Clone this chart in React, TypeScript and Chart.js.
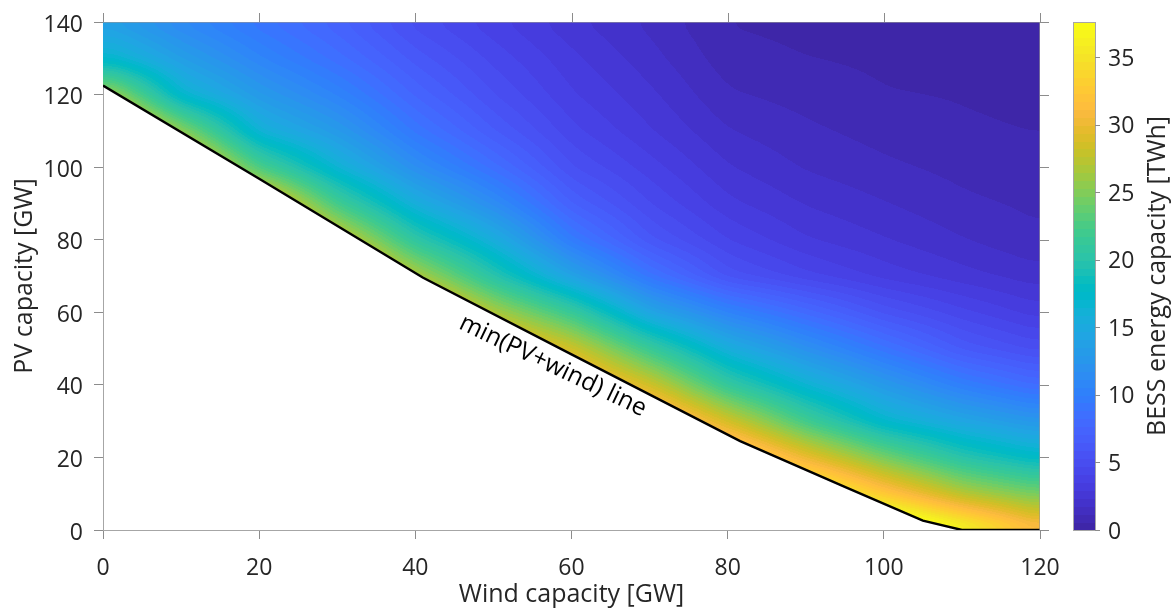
import React, { useEffect, useRef } from "react";
import { Chart, registerables } from "chart.js";

Chart.register(...registerables);

// ---------------- data ----------------
const windGrid = [0, 10, 20, 30, 40, 50, 60, 70, 80, 90, 100, 110, 120];
const pvGrid = [0, 10, 20, 30, 40, 50, 60, 70, 80, 90, 100, 110, 120, 130, 140];

// BESS energy capacity [TWh] at each wind grid node, one array per PV row (null = infeasible)
const n = null;
const bessPV0 = [n, n, n, n, n, n, n, n, n, n, 43, 37.5, 31.5];
const bessPV10 = [n, n, n, n, n, n, n, n, n, 38.8, 32.5, 27.2, 24.3];
const bessPV20 = [n, n, n, n, n, n, n, n, 36.4, 30, 24.5, 20, 17.5];
const bessPV30 = [n, n, n, n, n, n, n, 35.5, 28.6, 22, 17, 14.5, 12.5];
const bessPV40 = [n, n, n, n, n, n, 34, 28.5, 21, 16.5, 13, 10, 8.0];
const bessPV50 = [n, n, n, n, n, 33, 28.5, 21.5, 15.5, 12, 9, 6.3, 5.0];
const bessPV60 = [n, n, n, n, 34, 26.8, 21.5, 14.3, 10.5, 8.0, 5.7, 4.3, 3.2];
const bessPV70 = [n, n, n, 35, 27, 20, 14, 9.0, 5.6, 4.3, 3.3, 2.6, 2.0];
const bessPV80 = [n, n, 36, 29, 20.5, 15.5, 9.6, 6.0, 4.1, 3.0, 2.4, 1.8, 1.25];
const bessPV90 = [n, n, 32, 22, 15.5, 11.5, 7.0, 4.7, 3.1, 2.3, 1.8, 1.3, 1.05];
const bessPV100 = [n, 33, 22.5, 16.3, 11.7, 8.5, 5.3, 3.8, 2.4, 1.7, 1.3, 1.0, 0.8];
const bessPV110 = [35, 25.5, 16, 13, 9.2, 6.5, 4.3, 3.0, 1.8, 1.3, 0.95, 0.67, 0.57];
const bessPV120 = [27.5, 16.8, 13, 10.5, 7.5, 5.3, 3.6, 2.5, 1.25, 0.95, 0.62, 0.55, 0.45];
const bessPV130 = [17.3, 13.5, 10.7, 8.5, 6.2, 4.5, 3.1, 2.0, 0.85, 0.6, 0.48, 0.4, 0.35];
const bessPV140 = [13.7, 11, 9, 7.2, 5.0, 3.7, 2.5, 1.6, 0.55, 0.4, 0.3, 0.3, 0.25];
const bessRows: (number | null)[][] = [
  bessPV0, bessPV10, bessPV20, bessPV30, bessPV40, bessPV50, bessPV60, bessPV70,
  bessPV80, bessPV90, bessPV100, bessPV110, bessPV120, bessPV130, bessPV140,
];

// min(PV+wind) boundary line
const minLineWind = [0, 20, 41, 60, 81.6, 95, 105, 110, 120];
const minLinePV = [122.5, 96.8, 69.5, 48.4, 24.5, 11.9, 2.6, 0, 0];

const xTicks = [0, 20, 40, 60, 80, 100, 120];
const yTicks = [0, 20, 40, 60, 80, 100, 120, 140];
const colorbarTicks = [0, 5, 10, 15, 20, 25, 30, 35];
const colorMin = 0;
const colorMax = 37.6;

// parula colormap, 64 entries
const parula: number[][] = [
  [0.2422, 0.1504, 0.6603], [0.2504, 0.165, 0.7076], [0.2578, 0.1818, 0.7511], [0.2647, 0.1978, 0.7952],
  [0.2706, 0.2147, 0.8364], [0.2751, 0.2342, 0.871], [0.2783, 0.2559, 0.8991], [0.2803, 0.2782, 0.9221],
  [0.2813, 0.3006, 0.9414], [0.281, 0.3228, 0.9579], [0.2795, 0.3447, 0.9717], [0.276, 0.3667, 0.9829],
  [0.2699, 0.3892, 0.9906], [0.2602, 0.4123, 0.9952], [0.244, 0.4358, 0.9988], [0.2206, 0.4603, 0.9973],
  [0.1963, 0.4847, 0.9892], [0.1834, 0.5074, 0.9798], [0.1786, 0.5289, 0.9682], [0.1764, 0.5499, 0.952],
  [0.1687, 0.5703, 0.9359], [0.154, 0.5902, 0.9218], [0.146, 0.6091, 0.9079], [0.138, 0.6276, 0.8973],
  [0.1248, 0.6459, 0.8883], [0.1113, 0.6635, 0.8763], [0.0952, 0.6798, 0.8598], [0.0689, 0.6948, 0.8394],
  [0.0297, 0.7082, 0.8163], [0.0036, 0.7199, 0.7917], [0.0067, 0.7296, 0.7667], [0.0433, 0.7411, 0.7394],
  [0.0964, 0.75, 0.712], [0.1408, 0.7584, 0.6842], [0.1717, 0.767, 0.6554], [0.1938, 0.7758, 0.6251],
  [0.2161, 0.7843, 0.5923], [0.247, 0.7918, 0.5567], [0.2906, 0.7973, 0.5188], [0.3406, 0.8008, 0.4789],
  [0.3909, 0.8029, 0.4354], [0.4456, 0.8024, 0.3909], [0.5044, 0.7993, 0.348], [0.5616, 0.7942, 0.3045],
  [0.6174, 0.7876, 0.2612], [0.672, 0.7793, 0.2227], [0.7242, 0.7698, 0.191], [0.7738, 0.7598, 0.1646],
  [0.8203, 0.7498, 0.1535], [0.8634, 0.7406, 0.1596], [0.9035, 0.733, 0.1774], [0.9393, 0.7288, 0.21],
  [0.9728, 0.7298, 0.2394], [0.9956, 0.7434, 0.2371], [0.997, 0.7659, 0.2199], [0.9952, 0.7893, 0.2028],
  [0.9892, 0.8136, 0.1885], [0.9786, 0.8386, 0.1766], [0.9676, 0.8639, 0.1643], [0.961, 0.889, 0.1537],
  [0.9597, 0.9135, 0.1423], [0.9628, 0.9373, 0.1265], [0.9691, 0.9606, 0.1064], [0.9769, 0.9839, 0.0805],
];

const TEXT = "#262626";
const AXIS = "#a6a6a6";
const TICK = "#8c8c8c";
const FONT = "'Open Sans'";
const FS = 23;
const TFS = 25;

function findCell(grid: number[], v: number) {
  let i = 0;
  while (i < grid.length - 2 && v > grid[i + 1]) i++;
  const t = (v - grid[i]) / (grid[i + 1] - grid[i]);
  return { i, t: Math.max(0, Math.min(1, t)) };
}

function sample(wind: number, pv: number): number | null {
  const cx = findCell(windGrid, wind);
  const cy = findCell(pvGrid, pv);
  const corners: [number, number, number][] = [
    [cy.i, cx.i, (1 - cx.t) * (1 - cy.t)],
    [cy.i, cx.i + 1, cx.t * (1 - cy.t)],
    [cy.i + 1, cx.i, (1 - cx.t) * cy.t],
    [cy.i + 1, cx.i + 1, cx.t * cy.t],
  ];
  let s = 0, wsum = 0;
  for (const [r, c, w] of corners) {
    const v = bessRows[r][c];
    if (v === null || v === undefined) continue;
    s += v * w;
    wsum += w;
  }
  if (wsum < 1e-9) return null;
  return s / wsum;
}

// normalized box blur (ignores invalid pixels), used only to smooth shading
function boxBlur(F: Float32Array, valid: Uint8Array, w: number, h: number, r: number, horizontal: boolean) {
  const out = new Float32Array(F.length);
  const len = horizontal ? w : h, lines = horizontal ? h : w;
  for (let l = 0; l < lines; l++) {
    const idx = (k: number) => (horizontal ? l * w + k : k * w + l);
    let s = 0, c = 0;
    for (let k = 0; k < Math.min(r, len); k++) { const p = idx(k); if (valid[p]) { s += F[p]; c++; } }
    for (let k = 0; k < len; k++) {
      const add = k + r;
      if (add < len) { const p = idx(add); if (valid[p]) { s += F[p]; c++; } }
      const rem = k - r - 1;
      if (rem >= 0) { const p = idx(rem); if (valid[p]) { s -= F[p]; c--; } }
      const p = idx(k);
      out[p] = c > 0 ? s / c : F[p];
    }
  }
  for (let i = 0; i < F.length; i++) if (valid[i]) F[i] = out[i];
}

function colorIndex(v: number) {
  let k = Math.floor(((v - colorMin) / (colorMax - colorMin)) * parula.length);
  if (k < 0) k = 0;
  if (k > parula.length - 1) k = parula.length - 1;
  return k;
}

const heatmapPlugin = {
  id: "heatmap",
  beforeDatasetsDraw(chart: any) {
    const { ctx, chartArea: a, scales } = chart;
    const xs = scales.x, ys = scales.y;
    const x0 = Math.round(a.left), y0 = Math.round(a.top);
    const w = Math.round(a.right) - x0, h = Math.round(a.bottom) - y0;
    const F = new Float32Array(w * h);
    const valid = new Uint8Array(w * h);
    for (let j = 0; j < h; j++) {
      const pv = ys.getValueForPixel(y0 + j + 0.5);
      for (let i = 0; i < w; i++) {
        const wind = xs.getValueForPixel(x0 + i + 0.5);
        const v = sample(wind, pv);
        if (v === null) continue;
        F[j * w + i] = v;
        valid[j * w + i] = 1;
      }
    }
    for (let pass = 0; pass < 2; pass++) {
      boxBlur(F, valid, w, h, 11, true);
      boxBlur(F, valid, w, h, 6, false);
    }
    const off = document.createElement("canvas");
    off.width = w;
    off.height = h;
    const octx = off.getContext("2d")!;
    const img = octx.createImageData(w, h);
    for (let p = 0; p < w * h; p++) {
      if (!valid[p]) continue;
      const c = parula[colorIndex(F[p])];
      img.data[p * 4] = Math.round(c[0] * 255);
      img.data[p * 4 + 1] = Math.round(c[1] * 255);
      img.data[p * 4 + 2] = Math.round(c[2] * 255);
      img.data[p * 4 + 3] = 255;
    }
    octx.putImageData(img, 0, 0);
    ctx.save();
    ctx.beginPath();
    minLineWind.forEach((wv, k) => {
      const px = xs.getPixelForValue(wv), py = ys.getPixelForValue(minLinePV[k]);
      if (k === 0) ctx.moveTo(px, py); else ctx.lineTo(px, py);
    });
    ctx.lineTo(xs.getPixelForValue(xs.max), ys.getPixelForValue(ys.max));
    ctx.lineTo(xs.getPixelForValue(xs.min), ys.getPixelForValue(ys.max));
    ctx.closePath();
    ctx.clip();
    ctx.drawImage(off, x0, y0);
    ctx.restore();
  },
};

const decorPlugin = {
  id: "decor",
  afterDraw(chart: any) {
    const { ctx, chartArea: a, scales } = chart;
    const xs = scales.x, ys = scales.y, cb = scales.cb;
    ctx.save();
    // box lines top/right
    ctx.strokeStyle = "rgba(150,150,150,0.6)";
    ctx.lineWidth = 1;
    ctx.beginPath();
    ctx.moveTo(a.left, a.top + 0.5);
    ctx.lineTo(a.right, a.top + 0.5);
    ctx.moveTo(a.right - 0.5, a.top);
    ctx.lineTo(a.right - 0.5, a.bottom);
    ctx.stroke();
    // top/right ticks
    ctx.strokeStyle = TICK;
    ctx.beginPath();
    xTicks.forEach((t) => {
      const px = Math.round(xs.getPixelForValue(t)) + 0.5;
      ctx.moveTo(px, a.top);
      ctx.lineTo(px, a.top - 9);
    });
    yTicks.forEach((t) => {
      const py = Math.round(ys.getPixelForValue(t)) + 0.5;
      ctx.moveTo(a.right, py);
      ctx.lineTo(a.right + 9, py);
    });
    ctx.stroke();

    // colorbar
    const cbL = 1073, cbW = 22;
    for (let k = 0; k < parula.length; k++) {
      const v0 = colorMin + (k * (colorMax - colorMin)) / parula.length;
      const v1 = colorMin + ((k + 1) * (colorMax - colorMin)) / parula.length;
      const yy0 = cb.getPixelForValue(v0), yy1 = cb.getPixelForValue(v1);
      const c = parula[k];
      ctx.fillStyle = `rgb(${Math.round(c[0] * 255)},${Math.round(c[1] * 255)},${Math.round(c[2] * 255)})`;
      ctx.fillRect(cbL, Math.floor(yy1), cbW, Math.ceil(yy0) - Math.floor(yy1));
    }
    ctx.strokeStyle = AXIS;
    ctx.strokeRect(cbL + 0.5, cb.top + 0.5, cbW, cb.bottom - cb.top);
    ctx.strokeStyle = TICK;
    ctx.beginPath();
    colorbarTicks.forEach((t) => {
      const py = Math.round(cb.getPixelForValue(t)) + 0.5;
      ctx.moveTo(cbL + cbW, py);
      ctx.lineTo(cbL + cbW + 5, py);
    });
    ctx.stroke();

    // colorbar title
    ctx.fillStyle = TEXT;
    ctx.font = `${TFS}px ${FONT}`;
    ctx.textAlign = "center";
    ctx.textBaseline = "middle";
    ctx.translate(1158, (cb.top + cb.bottom) / 2);
    ctx.rotate(-Math.PI / 2);
    ctx.fillText("BESS energy capacity [TWh]", 0, 0);
    ctx.restore();

    // annotation along the line
    ctx.save();
    ctx.fillStyle = "#000";
    ctx.font = `24.5px ${FONT}`;
    ctx.textAlign = "center";
    ctx.textBaseline = "middle";
    ctx.translate(xs.getPixelForValue(57.6), ys.getPixelForValue(45.2));
    ctx.rotate((25.7 * Math.PI) / 180);
    ctx.fillText("min(PV+wind) line", 0, 0);
    ctx.restore();
  },
};

const noPad = (s: any) => { s.paddingTop = 0; s.paddingBottom = 0; };

export default function App() {
  const ref = useRef<HTMLCanvasElement>(null);
  useEffect(() => {
    document.body.style.margin = "0";
    const canvas = ref.current!;
    const chart = new Chart(canvas, {
      type: "line",
      data: {
        datasets: [
          {
            label: "min(PV+wind) line",
            data: minLineWind.map((w, i) => ({ x: w, y: minLinePV[i] })),
            borderColor: "#000",
            borderWidth: 2.4,
            pointRadius: 0,
            tension: 0,
            fill: false,
          },
        ],
      },
      options: {
        animation: false,
        responsive: false,
        devicePixelRatio: 1,
        layout: { padding: { top: 22, left: 0, right: 0, bottom: 0 } },
        plugins: { legend: { display: false }, tooltip: { enabled: false } },
        scales: {
          x: {
            type: "linear",
            min: 0,
            max: 120,
            afterBuildTicks: (s: any) => { s.ticks = xTicks.map((v) => ({ value: v })); },
            afterFit: (s: any) => { s.height = 80; s.paddingLeft = 0; s.paddingRight = 0; },
            ticks: { color: TEXT, font: { family: FONT, size: FS }, padding: 16, maxRotation: 0, autoSkip: false },
            grid: { display: true, drawOnChartArea: false, drawTicks: true, tickLength: 9, tickColor: TICK, tickWidth: 1 },
            border: { display: true, color: AXIS, width: 1 },
            title: { display: true, text: "Wind capacity [GW]", color: TEXT, font: { family: FONT, size: TFS }, padding: { top: 0, bottom: 0 } },
          },
          y: {
            type: "linear",
            position: "left",
            min: 0,
            max: 140,
            afterBuildTicks: (s: any) => { s.ticks = yTicks.map((v) => ({ value: v })); },
            afterFit: (s: any) => { s.width = 103; noPad(s); },
            ticks: { color: TEXT, font: { family: FONT, size: FS }, padding: 11, autoSkip: false, labelOffset: 3 },
            grid: { display: true, drawOnChartArea: false, drawTicks: true, tickLength: 9, tickColor: TICK, tickWidth: 1 },
            border: { display: true, color: AXIS, width: 1 },
            title: { display: true, text: "PV capacity [GW]", color: TEXT, font: { family: FONT, size: TFS }, padding: { top: 10, bottom: 0 } },
          },
          cb: {
            type: "linear",
            position: "right",
            min: colorMin,
            max: colorMax,
            afterBuildTicks: (s: any) => { s.ticks = colorbarTicks.map((v) => ({ value: v })); },
            afterFit: (s: any) => { s.width = 135; noPad(s); },
            ticks: { color: TEXT, font: { family: FONT, size: FS }, padding: 68, autoSkip: false, labelOffset: 2 },
            grid: { display: false, drawTicks: false, drawOnChartArea: false },
            border: { display: false },
          },
        },
      },
      plugins: [heatmapPlugin, decorPlugin],
    } as any);
    return () => chart.destroy();
  }, []);
  return (
    <div style={{ position: "absolute", left: 0, top: 0, width: 1175, height: 610 }}>
      <canvas ref={ref} width={1175} height={610} />
    </div>
  );
}
